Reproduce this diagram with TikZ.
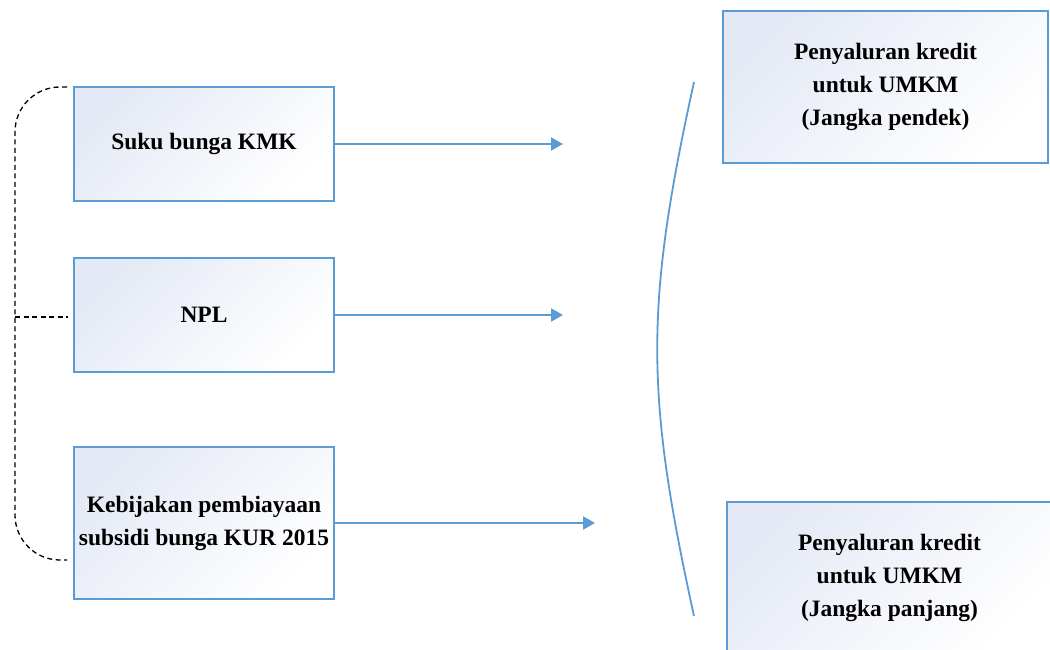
\documentclass[tikz,border=0pt]{standalone}
\usepackage{fontspec}
\setmainfont{Liberation Serif}
\usetikzlibrary{arrows.meta}
\definecolor{edgeblue}{RGB}{91,155,213}
\definecolor{boxfill}{RGB}{228,233,245}
\begin{document}
\begin{tikzpicture}[x=1pt,y=-1pt,
  box/.style={draw=edgeblue, line width=1.6pt, rectangle, inner sep=0pt,
    top color=boxfill, bottom color=white, shading angle=45,
    align=center, font=\fontsize{23.5}{33}\selectfont\bfseries, text=black},
  arr/.style={draw=edgeblue, line width=2pt, -{Triangle[length=12pt,width=13pt]}},
  arcline/.style={draw=edgeblue, line width=1.8pt},
  brace/.style={draw=black, line width=1.3pt, dash pattern=on 5pt off 3.5pt}]
\clip (0,0) rectangle (1050,650);
\fill[white] (0,0) rectangle (1050,650);
% left boxes
\node[box, minimum width=260pt, minimum height=114pt] (b1) at (204,144) {Suku bunga KMK};
\node[box, minimum width=260pt, minimum height=114pt] (b2) at (204,315) {NPL};
\node[box, minimum width=260pt, minimum height=152pt] (b3) at (204,523) {Kebijakan pembiayaan\\subsidi bunga KUR 2015};
% right boxes
\node[box, minimum width=325pt, minimum height=152pt] (r1) at (885.5,87) {Penyaluran kredit\\untuk UMKM\\(Jangka pendek)};
\node[box, minimum width=325pt, minimum height=152pt] (r2) at (889.5,578) {Penyaluran kredit\\untuk UMKM\\(Jangka panjang)};
% arrow ends
\coordinate (e1) at (563,144);
\coordinate (e2) at (563,315);
\coordinate (e3) at (595,523);
\draw[arr] (b1.east) -- (e1);
\draw[arr] (b2.east) -- (e2);
\draw[arr] (b3.east) -- (e3);
% arc
\coordinate (arcTop) at (694,82);
\coordinate (arcBot) at (694,616);
\draw[arcline] (arcTop) .. controls (645,305) and (645,393) .. (arcBot);
% dashed bracket
\coordinate (brTop) at (67,87);
\coordinate (brBot) at (67,560);
\coordinate (brMid) at (15,317);
\coordinate (brMidEnd) at (68,317);
\draw[brace, rounded corners=45pt] (brTop) -- (15,87) -- (15,560) -- (brBot);
\draw[brace] (brMid) -- (brMidEnd);
\end{tikzpicture}
\end{document}
